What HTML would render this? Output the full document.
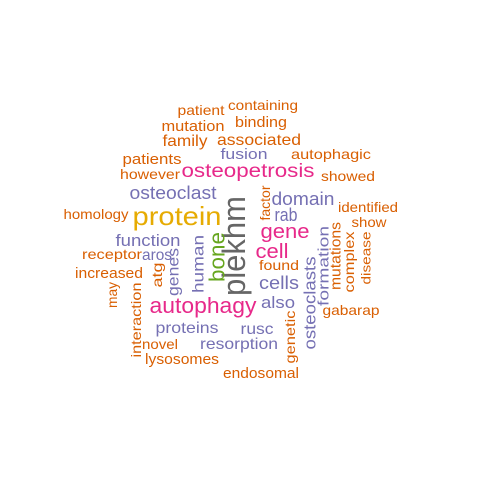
<!DOCTYPE html>
<html><head><meta charset="utf-8"><style>
html,body{margin:0;padding:0;background:#fff;}
svg text{font-family:"Liberation Sans",Arial,sans-serif;}
</style></head><body>
<svg width="480" height="480" viewBox="0 0 480 480">
<rect width="480" height="480" fill="#fff"/>
<g text-anchor="middle">
<text x="201" y="115" font-size="14" fill="#D95F02" textLength="47" lengthAdjust="spacingAndGlyphs">patient</text>
<text x="263" y="110" font-size="14" fill="#D95F02" textLength="70" lengthAdjust="spacingAndGlyphs">containing</text>
<text x="193" y="131" font-size="15" fill="#D95F02" textLength="63" lengthAdjust="spacingAndGlyphs">mutation</text>
<text x="261" y="127" font-size="15" fill="#D95F02" textLength="52" lengthAdjust="spacingAndGlyphs">binding</text>
<text x="185" y="146" font-size="16" fill="#D95F02" textLength="45" lengthAdjust="spacingAndGlyphs">family</text>
<text x="259" y="145" font-size="16" fill="#D95F02" textLength="84" lengthAdjust="spacingAndGlyphs">associated</text>
<text x="244" y="159" font-size="15" fill="#7570B3" textLength="47" lengthAdjust="spacingAndGlyphs">fusion</text>
<text x="331" y="159" font-size="14" fill="#D95F02" textLength="80" lengthAdjust="spacingAndGlyphs">autophagic</text>
<text x="152" y="164" font-size="15" fill="#D95F02" textLength="59" lengthAdjust="spacingAndGlyphs">patients</text>
<text x="150" y="179" font-size="14" fill="#D95F02" textLength="60" lengthAdjust="spacingAndGlyphs">however</text>
<text x="248" y="177" font-size="19" fill="#E7298A" textLength="133" lengthAdjust="spacingAndGlyphs">osteopetrosis</text>
<text x="348" y="181" font-size="14" fill="#D95F02" textLength="54" lengthAdjust="spacingAndGlyphs">showed</text>
<text x="173" y="199" font-size="18" fill="#7570B3" textLength="87" lengthAdjust="spacingAndGlyphs">osteoclast</text>
<text x="303" y="205" font-size="18" fill="#7570B3" textLength="63" lengthAdjust="spacingAndGlyphs">domain</text>
<text x="368" y="212" font-size="14" fill="#D95F02" textLength="60" lengthAdjust="spacingAndGlyphs">identified</text>
<text x="177" y="225" font-size="26" fill="#E6AB02" textLength="89" lengthAdjust="spacingAndGlyphs">protein</text>
<text x="96" y="219" font-size="14" fill="#D95F02" textLength="65" lengthAdjust="spacingAndGlyphs">homology</text>
<text x="286" y="221" font-size="18" fill="#7570B3" textLength="23" lengthAdjust="spacingAndGlyphs">rab</text>
<text x="369" y="227" font-size="14" fill="#D95F02" textLength="35" lengthAdjust="spacingAndGlyphs">show</text>
<text x="285" y="238" font-size="20" fill="#E7298A" textLength="49" lengthAdjust="spacingAndGlyphs">gene</text>
<text x="148" y="246" font-size="17" fill="#7570B3" textLength="65" lengthAdjust="spacingAndGlyphs">function</text>
<text x="272" y="258" font-size="20" fill="#E7298A" textLength="33" lengthAdjust="spacingAndGlyphs">cell</text>
<text x="112" y="259" font-size="14" fill="#D95F02" textLength="60" lengthAdjust="spacingAndGlyphs">receptor</text>
<text x="157" y="260" font-size="16" fill="#7570B3" textLength="30" lengthAdjust="spacingAndGlyphs">aros</text>
<text x="279" y="270" font-size="14" fill="#D95F02" textLength="40" lengthAdjust="spacingAndGlyphs">found</text>
<text x="109" y="278" font-size="15" fill="#D95F02" textLength="68" lengthAdjust="spacingAndGlyphs">increased</text>
<text x="279" y="289" font-size="18" fill="#7570B3" textLength="40" lengthAdjust="spacingAndGlyphs">cells</text>
<text x="203" y="313" font-size="22" fill="#E7298A" textLength="107" lengthAdjust="spacingAndGlyphs">autophagy</text>
<text x="278" y="308" font-size="17" fill="#7570B3" textLength="34" lengthAdjust="spacingAndGlyphs">also</text>
<text x="351" y="315" font-size="14" fill="#D95F02" textLength="57" lengthAdjust="spacingAndGlyphs">gabarap</text>
<text x="187" y="333" font-size="16" fill="#7570B3" textLength="63" lengthAdjust="spacingAndGlyphs">proteins</text>
<text x="257" y="334" font-size="16" fill="#7570B3" textLength="33" lengthAdjust="spacingAndGlyphs">rusc</text>
<text x="160" y="349" font-size="14" fill="#D95F02" textLength="36" lengthAdjust="spacingAndGlyphs">novel</text>
<text x="239" y="349" font-size="16" fill="#7570B3" textLength="78" lengthAdjust="spacingAndGlyphs">resorption</text>
<text x="182" y="364" font-size="15" fill="#D95F02" textLength="74" lengthAdjust="spacingAndGlyphs">lysosomes</text>
<text x="261" y="378" font-size="15" fill="#D95F02" textLength="76" lengthAdjust="spacingAndGlyphs">endosomal</text>
</g>
<g text-anchor="middle" dominant-baseline="central">
<text x="234" y="246" font-size="32" fill="#666666" transform="rotate(-90 234 246)" textLength="100" lengthAdjust="spacingAndGlyphs">plekhm</text>
<text x="265" y="203" font-size="14" fill="#D95F02" transform="rotate(-90 265 203)" textLength="35" lengthAdjust="spacingAndGlyphs">factor</text>
<text x="217" y="257" font-size="22" fill="#66A61E" transform="rotate(-90 217 257)" textLength="50" lengthAdjust="spacingAndGlyphs">bone</text>
<text x="199" y="264" font-size="16" fill="#7570B3" transform="rotate(-90 199 264)" textLength="58" lengthAdjust="spacingAndGlyphs">human</text>
<text x="336" y="256" font-size="15" fill="#D95F02" transform="rotate(-90 336 256)" textLength="68" lengthAdjust="spacingAndGlyphs">mutations</text>
<text x="349" y="262" font-size="14" fill="#D95F02" transform="rotate(-90 349 262)" textLength="61" lengthAdjust="spacingAndGlyphs">complex</text>
<text x="366" y="258" font-size="13" fill="#D95F02" transform="rotate(-90 366 258)" textLength="53" lengthAdjust="spacingAndGlyphs">disease</text>
<text x="324" y="266" font-size="15" fill="#7570B3" transform="rotate(-90 324 266)" textLength="80" lengthAdjust="spacingAndGlyphs">formation</text>
<text x="310" y="303" font-size="17" fill="#7570B3" transform="rotate(-90 310 303)" textLength="93" lengthAdjust="spacingAndGlyphs">osteoclasts</text>
<text x="174" y="272" font-size="16" fill="#7570B3" transform="rotate(-90 174 272)" textLength="48" lengthAdjust="spacingAndGlyphs">genes</text>
<text x="157" y="275" font-size="14" fill="#D95F02" transform="rotate(-90 157 275)" textLength="25" lengthAdjust="spacingAndGlyphs">atg</text>
<text x="112" y="295" font-size="14" fill="#D95F02" transform="rotate(-90 112 295)" textLength="26" lengthAdjust="spacingAndGlyphs">may</text>
<text x="136" y="320" font-size="14" fill="#D95F02" transform="rotate(-90 136 320)" textLength="75" lengthAdjust="spacingAndGlyphs">interaction</text>
<text x="290" y="337" font-size="14" fill="#D95F02" transform="rotate(-90 290 337)" textLength="53" lengthAdjust="spacingAndGlyphs">genetic</text>
</g>
</svg>
</body></html>
